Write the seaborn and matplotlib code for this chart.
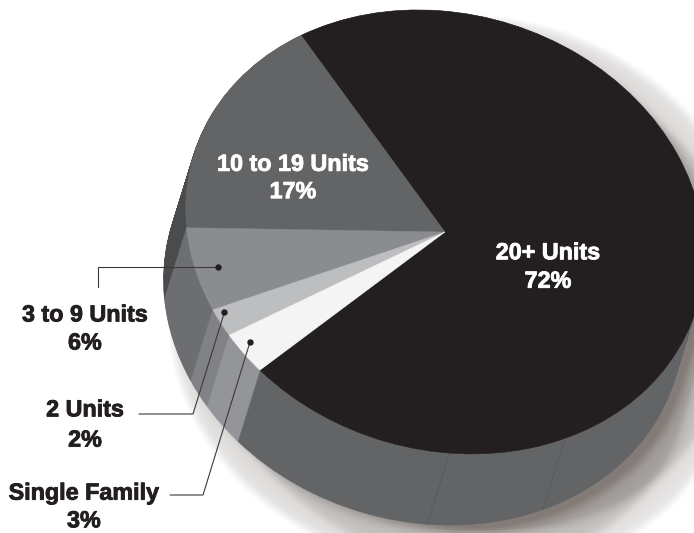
import numpy as np
import matplotlib
matplotlib.use("Agg")
import matplotlib.pyplot as plt
import matplotlib.patheffects as pe
from matplotlib.transforms import Affine2D
import seaborn as sns

categories = ["20+ Units", "10 to 19 Units", "3 to 9 Units", "2 Units", "Single Family"]
shares = [72, 17, 6, 2, 3]
top_colors = ["#231f20", "#636466", "#8a8c8f", "#bcbec0", "#f4f4f4"]
side_colors = ["#636466", "#4a4b4d", "#6d6e71", "#808285", "#939598"]
START_ANGLE = 218.5
SEAM_ANGLES = [265.0, 291.6]

W, H = 694, 533
CX, CY, RU, RV, SHEAR = 445, 232, 258, 222, -27
DX, DY = -22, 71
LAYERS = 72

sns.set_theme(style="white")
plt.rcParams["font.family"] = ["Liberation Sans", "DejaVu Sans"]

fig = plt.figure(figsize=(W / 100, H / 100), dpi=100, facecolor="white")
ax = fig.add_axes([0, 0, 1, 1])


def geom(ox=0.0, oy=0.0):
    return Affine2D.from_values(RU, 0, SHEAR, RV, CX + ox, H - CY - oy)


# soft shadow beneath the solid
pad = 50
xs, ys = np.meshgrid(np.arange(-pad, W + pad) + 0.5, np.arange(-pad, H + pad) + 0.5)
mask = np.zeros_like(xs, dtype=bool)
for f in np.linspace(0, 1, 40):
    v = (CY + f * DY + 4 - ys) / RV
    u = (xs - (CX + f * DX + 5) - SHEAR * v) / RU
    mask |= (u ** 2 + v ** 2) <= 1
sig = 7.0
kx = np.arange(-22, 23)
kern = np.exp(-kx ** 2 / (2 * sig ** 2))
kern /= kern.sum()
blur = np.fft.irfft2(
    np.fft.rfft2(mask.astype(float))
    * np.fft.rfft2(np.roll(np.outer(kern, kern), (-22, -22), (0, 1)), s=mask.shape),
    s=mask.shape,
)
rgba = np.zeros(mask.shape + (4,))
rgba[..., :3] = (0.42, 0.39, 0.37)
rgba[..., 3] = np.clip(blur, 0, 1) * 0.85
ax.imshow(rgba, extent=(-pad, W + pad, -pad, H + pad), origin="upper", zorder=0, aspect="auto")

# extruded side, built from stacked pies, lowest first
for i, f in enumerate(np.linspace(1, 0, LAYERS)):
    wedges, _ = ax.pie(shares, startangle=START_ANGLE, colors=side_colors, frame=True)
    for w in wedges:
        w.set_edgecolor(w.get_facecolor())
        w.set_linewidth(0.5)
        w.set_transform(geom(f * DX, f * DY) + ax.transData)
        w.set_zorder(1 + i * 0.001)

# top face
wedges, _ = ax.pie(shares, startangle=START_ANGLE, colors=top_colors, frame=True)
for w in wedges:
    w.set_edgecolor(w.get_facecolor())
    w.set_linewidth(0.3)
    w.set_transform(geom() + ax.transData)
    w.set_zorder(3)

# faint seams on the big side
for a in SEAM_ANGLES:
    c, s = np.cos(np.radians(a)), np.sin(np.radians(a))
    p0 = geom().transform((c, s))
    p1 = geom(DX, DY).transform((c, s))
    ax.plot([p0[0], p1[0]], [p0[1], p1[1]], color="#58595b", lw=0.6, zorder=2.5)

ax.set_aspect("auto")
ax.set_xlim(0, W)
ax.set_ylim(0, H)
ax.axis("off")


def P(x, y):
    return x, H - y


# leader lines with dots
leaders = [
    [(98, 287), (98, 267), (218, 267)],
    [(139, 414), (193, 414), (224.5, 312)],
    [(170, 495), (203, 495), (250, 342)],
]
for pts in leaders:
    lx, ly = zip(*[P(*p) for p in pts])
    ax.plot(lx, ly, color="#3a3a3c", lw=0.8, zorder=4, solid_joinstyle="miter")
    ax.plot(lx[-1], ly[-1], "o", ms=4.6, color="#231f20", mew=0, zorder=5)

labels = [
    ("20+ Units\n72%", 548, 267, "white", 1.3),
    ("10 to 19 Units\n17%", 293, 178, "white", 1.24),
    ("3 to 9 Units\n6%", 85, 329, "#231f20", 1.28),
    ("2 Units\n2%", 85, 425, "#231f20", 1.4),
    ("Single Family\n3%", 84, 507, "#231f20", 1.26),
]
for text, x, y, col, sp in labels:
    lx, ly = P(x, y)
    t = ax.text(lx, ly, text, ha="center", va="center", ma="center", color=col, fontsize=16.8,
                fontweight="bold", linespacing=sp, zorder=6)
    t.set_path_effects([pe.withStroke(linewidth=0.6, foreground=col)])

fig.savefig("out.png", dpi=100, facecolor="white")
